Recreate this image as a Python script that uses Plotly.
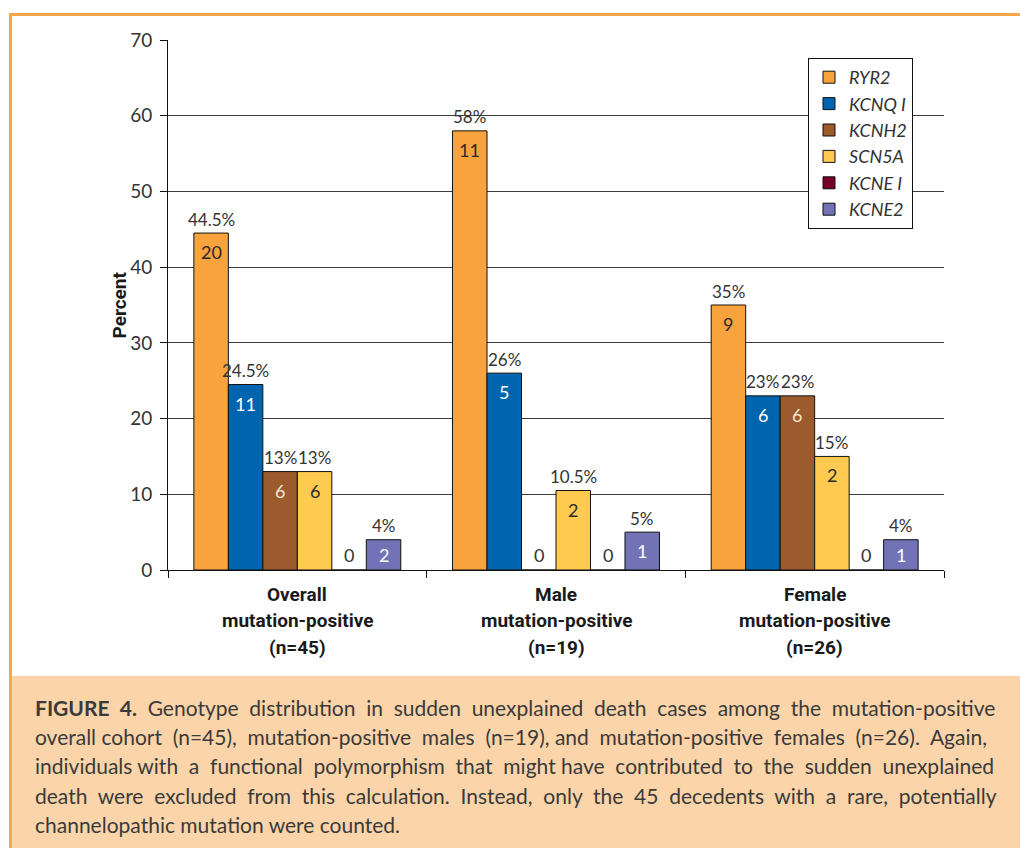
import plotly.graph_objects as go

# ---- data -------------------------------------------------------------
groups = ["Overall", "Male", "Female"]
group_lines = [
    ["Overall", "mutation-positive", "(n=45)"],
    ["Male", "mutation-positive", "(n=19)"],
    ["Female", "mutation-positive", "(n=26)"],
]
genes = ["RYR2", "KCNQ1", "KCNH2", "SCN5A", "KCNE1", "KCNE2"]
legend_names = ["RYR2", "KCNQ I", "KCNH2", "SCN5A", "KCNE I", "KCNE2"]

ryr2_pct = [44.5, 58, 35]
kcnq1_pct = [24.5, 26, 23]
kcnh2_pct = [13, 0, 23]
scn5a_pct = [13, 10.5, 15]
kcne1_pct = [0, 0, 0]
kcne2_pct = [4, 5, 4]

ryr2_n = [20, 11, 9]
kcnq1_n = [11, 5, 6]
kcnh2_n = [6, 0, 6]
scn5a_n = [6, 2, 2]
kcne1_n = [0, 0, 0]
kcne2_n = [2, 1, 1]

y_ticks = [0, 10, 20, 30, 40, 50, 60, 70]

caption_lines = [
    "<b>FIGURE 4.</b> Genotype distribution in sudden unexplained death cases among the mutation-positive",
    "overall cohort (n=45), mutation-positive males (n=19), and mutation-positive females (n=26). Again,",
    "individuals with a functional polymorphism that might have contributed to the sudden unexplained",
    "death were excluded from this calculation. Instead, only the 45 decedents with a rare, potentially",
    "channelopathic mutation were counted.",
]

# ---- styling ----------------------------------------------------------
pcts = [ryr2_pct, kcnq1_pct, kcnh2_pct, scn5a_pct, kcne1_pct, kcne2_pct]
counts = [ryr2_n, kcnq1_n, kcnh2_n, scn5a_n, kcne1_n, kcne2_n]
colors = ["#F8A33D", "#0065AE", "#9B5B2C", "#FECB50", "#770027", "#7272B6"]
count_colors = ["#2a2a2a", "#ffffff", "#f4e6da", "#2a2a2a", "#ffffff", "#ffffff"]

W, H = 1020, 848
PL, PR, PT, PB = 168, 944, 40, 570  # plot area in pixels
TXT = "#333333"
FONT = "Lato"
BOLD_FONT = "Roboto"
PX_PER_UNIT = (PB - PT) / 70.0

# extra non-breaking spaces spread over each caption line (justified block)
caption_pad = [11, 8, 10, 14, 0]


def px_x(px):
    return (px - PL) / (PR - PL)


def px_y(py):
    return (PB - py) / (PB - PT)


def justify(line, extra):
    words = line.split(" ")
    gaps = len(words) - 1
    if extra <= 0 or gaps <= 0:
        return line
    out = words[0]
    for gi in range(gaps):
        n_add = (extra * (gi + 1)) // gaps - (extra * gi) // gaps
        out += " " + "\u00a0" * n_add + words[gi + 1]
    return out


fig = go.Figure()
n_gen = len(genes)
for i, g in enumerate(genes):
    fig.add_trace(go.Bar(
        x=list(range(len(groups))), y=pcts[i], name=legend_names[i],
        marker=dict(color=colors[i], line=dict(color="#111111", width=1)),
        legendgroup=g, hoverinfo="skip",
    ))

annotations = []
slot = 0.8 / n_gen
for ci in range(len(groups)):
    for i in range(n_gen):
        v = pcts[i][ci]
        bx = ci - 0.4 + (i + 0.5) * slot
        if v > 0:
            annotations.append(dict(x=bx, y=v, xref="x", yref="y", text=f"{v:g}%",
                                    showarrow=False, yanchor="middle", yshift=14,
                                    font=dict(family=FONT, size=17, color=TXT)))
            depth = min(19, v * PX_PER_UNIT / 2)
            annotations.append(dict(x=bx, y=v, xref="x", yref="y", text=str(counts[i][ci]),
                                    showarrow=False, yanchor="middle", yshift=-depth,
                                    font=dict(family=FONT, size=18, color=count_colors[i])))
        else:
            annotations.append(dict(x=bx, y=0, xref="x", yref="y", text=str(counts[i][ci]),
                                    showarrow=False, yanchor="middle", yshift=15,
                                    font=dict(family=FONT, size=18, color=TXT)))

# category labels (three lines each)
for ci, lines in enumerate(group_lines):
    for li, t in enumerate(lines):
        annotations.append(dict(x=ci, y=px_y(594 + li * 26.5), xref="x", yref="paper",
                                text=f"<b>{t}</b>", showarrow=False, yanchor="middle",
                                font=dict(family=BOLD_FONT, size=19, color="#1a1a1a")))

# y-axis title
annotations.append(dict(x=px_x(105), y=px_y(305), xref="paper", yref="paper",
                        text="<b>Percent</b>", textangle=-90, showarrow=False,
                        font=dict(family=BOLD_FONT, size=19, color="#1a1a1a")))

# caption
for li, t in enumerate(caption_lines):
    annotations.append(dict(x=px_x(33), y=px_y(707 + li * 29.4), xref="paper", yref="paper",
                            text=justify(t, caption_pad[li]), showarrow=False,
                            xanchor="left", yanchor="middle",
                            font=dict(family=FONT, size=21, color="#3a3a3a")))

shapes = [
    # caption background
    dict(type="rect", xref="paper", yref="paper", x0=px_x(10), x1=px_x(1030),
         y0=px_y(676), y1=px_y(860), fillcolor="#FBD5A9", line=dict(width=0), layer="below"),
    # orange frame
    dict(type="rect", xref="paper", yref="paper", x0=px_x(10.5), x1=px_x(1030),
         y0=px_y(14.5), y1=px_y(860), fillcolor="rgba(0,0,0,0)",
         line=dict(color="#F7A548", width=3), layer="above"),
]

fig.update_layout(
    width=W, height=H,
    margin=dict(l=PL, r=W - PR, t=PT, b=H - PB),
    paper_bgcolor="white", plot_bgcolor="white",
    barmode="group", bargap=0.2, bargroupgap=0,
    font=dict(family=FONT, color=TXT),
    showlegend=True,
    legend=dict(x=px_x(808), y=px_y(58), xanchor="left", yanchor="top",
                bordercolor="#111111", borderwidth=1, bgcolor="white",
                font=dict(family=FONT, size=18, color="#333333", style="italic"),
                tracegroupgap=0),
    annotations=annotations,
    shapes=shapes,
)
fig.update_xaxes(range=[-0.5, 2.5], tickvals=[-0.5, 0.5, 1.5, 2.5], ticktext=["", "", "", ""],
                 ticks="outside", ticklen=7, tickcolor="#111111", showline=True,
                 linecolor="#111111", linewidth=1, showgrid=False, zeroline=False)
fig.update_yaxes(range=[0, 70], tickvals=y_ticks, ticks="outside", ticklen=7,
                 tickcolor="#111111", showline=True, linecolor="#111111", linewidth=1,
                 showgrid=True, gridcolor="#3c3c3c", gridwidth=1, zeroline=False,
                 tickfont=dict(family=FONT, size=19, color=TXT), ticklabelstandoff=4)

fig.write_html("out.html")
